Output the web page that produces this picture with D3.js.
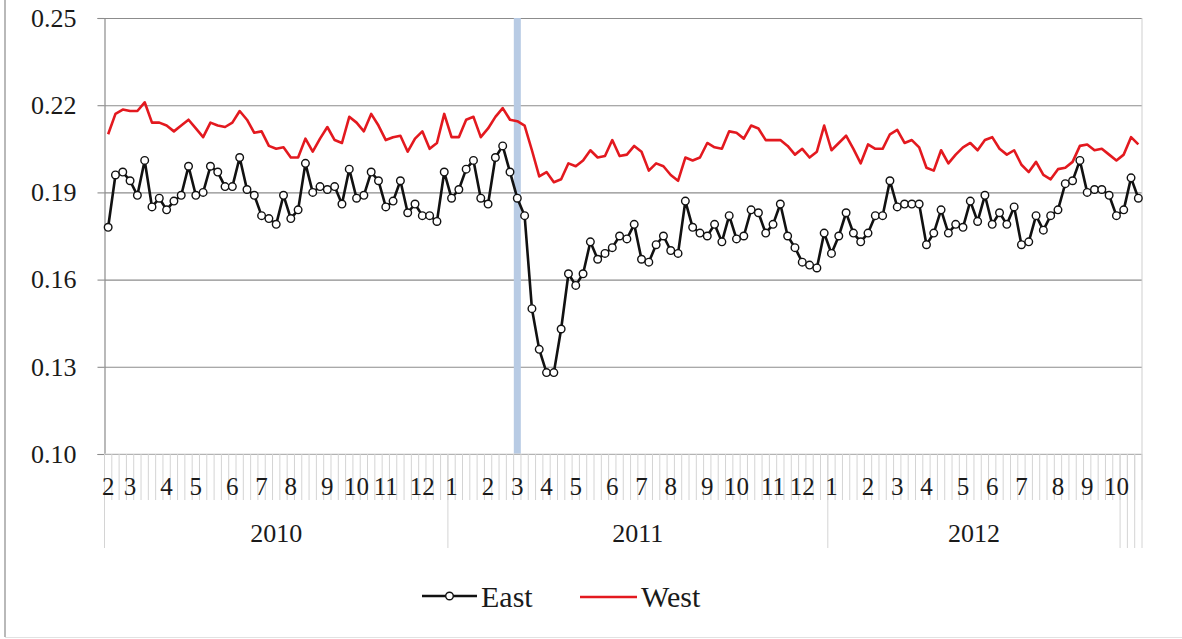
<!DOCTYPE html>
<html>
<head>
<meta charset="utf-8">
<script src="https://cdn.jsdelivr.net/npm/d3@7"></script>
<style>
  html, body { margin: 0; padding: 0; background: #fff; }
  svg { display: block; }
  text { font-family: "Liberation Serif", "Times New Roman", serif; fill: #1a1a1a; }
</style>
</head>
<body>
<svg id="chart" width="1182" height="639"></svg>
<script>
// ---- Data (weekly, Feb 2010 – Oct 2012) ----
const east = [
  0.178,0.196,0.197,0.194,0.189,0.201,0.185,0.188,0.184,0.187,
  0.189,0.199,0.189,0.190,0.199,0.197,0.192,0.192,0.202,0.191,
  0.189,0.182,0.181,0.179,0.189,0.181,0.184,0.200,0.190,0.192,
  0.191,0.192,0.186,0.198,0.188,0.189,0.197,0.194,0.185,0.187,
  0.194,0.183,0.186,0.182,0.182,0.180,0.197,0.188,0.191,0.198,
  0.201,0.188,0.186,0.202,0.206,0.197,0.188,0.182,0.150,0.136,
  0.128,0.128,0.143,0.162,0.158,0.162,0.173,0.167,0.169,0.171,
  0.175,0.174,0.179,0.167,0.166,0.172,0.175,0.170,0.169,0.187,
  0.178,0.176,0.175,0.179,0.173,0.182,0.174,0.175,0.184,0.183,
  0.176,0.179,0.186,0.175,0.171,0.166,0.165,0.164,0.176,0.169,
  0.175,0.183,0.176,0.173,0.176,0.182,0.182,0.194,0.185,0.186,
  0.186,0.186,0.172,0.176,0.184,0.176,0.179,0.178,0.187,0.180,
  0.189,0.179,0.183,0.179,0.185,0.172,0.173,0.182,0.177,0.182,
  0.184,0.193,0.194,0.201,0.190,0.191,0.191,0.189,0.182,0.184,
  0.195,0.188
];
const west = [
  0.210,0.217,0.2185,0.218,0.218,0.221,0.214,0.214,0.213,0.211,
  0.213,0.215,0.212,0.209,0.214,0.213,0.2125,0.214,0.218,0.215,
  0.2105,0.211,0.206,0.205,0.2055,0.202,0.202,0.2085,0.204,0.2085,
  0.2125,0.208,0.207,0.216,0.214,0.211,0.217,0.213,0.208,0.209,
  0.2095,0.204,0.2085,0.211,0.205,0.207,0.217,0.209,0.209,0.215,
  0.216,0.209,0.212,0.216,0.219,0.215,0.2145,0.213,0.2045,0.1955,
  0.197,0.1935,0.1945,0.200,0.199,0.201,0.2045,0.202,0.2025,0.208,
  0.2025,0.203,0.206,0.204,0.1975,0.200,0.199,0.196,0.194,0.202,
  0.201,0.202,0.207,0.2055,0.205,0.211,0.2105,0.2085,0.213,0.212,
  0.208,0.208,0.208,0.206,0.203,0.205,0.202,0.204,0.213,0.2045,
  0.207,0.2095,0.205,0.200,0.2065,0.205,0.205,0.210,0.2115,0.207,
  0.208,0.2055,0.1985,0.1975,0.2045,0.200,0.203,0.2055,0.207,0.2045,
  0.208,0.209,0.205,0.203,0.2045,0.1995,0.197,0.2005,0.196,0.1945,
  0.198,0.1985,0.2005,0.206,0.2065,0.2045,0.205,0.203,0.201,0.203,
  0.209,0.2065
];
// Year groups (label, number of weekly categories)
const yearLabels = ["2010", "2011", "2012", "", "", ""];
const yearWeeks  = [47, 52, 40, 1, 1, 1];
// Month labels and the week index where each month starts
const monthLabels = ["2","3","4","5","6","7","8","9","10","11","12",
                     "1","2","3","4","5","6","7","8","9","10","11","12",
                     "1","2","3","4","5","6","7","8","9","10"];
const monthStart  = [0,3,8,12,17,21,25,30,34,38,43,
                     47,52,56,60,64,69,73,77,82,86,91,95,
                     99,104,108,112,117,121,125,130,134,138];
// Event marker week (March 2011)
const eventWeek = 56;
const yTicks = [0.10, 0.13, 0.16, 0.19, 0.22, 0.25];
const seriesNames = ["East", "West"];

// ---- Layout ----
const svg = d3.select("#chart");
const L = 104.5, R = 1142, T = 18, B = 454;
const n = east.length;
const x = d3.scaleBand().domain(d3.range(n)).range([L, R]).padding(0);
const bw = x.bandwidth();
const cx = i => x(i) + bw / 2;
const y = d3.scaleLinear().domain([0.10, 0.25]).range([B, T]);

// outer frame (left & bottom edge of picture)
svg.append("line").attr("x1", 5).attr("x2", 5).attr("y1", 0).attr("y2", 637)
   .attr("stroke", "#8a8a8a").attr("stroke-width", 1.2);
svg.append("line").attr("x1", 5).attr("x2", 1182).attr("y1", 637.5).attr("y2", 637.5)
   .attr("stroke", "#e2e2e2").attr("stroke-width", 1);

// gridlines
const grid = svg.append("g").attr("transform", `translate(${L},0)`)
  .call(d3.axisLeft(y).tickValues(yTicks).tickSize(-(R - L)).tickFormat(""));
grid.select(".domain").remove();
grid.selectAll("line").attr("stroke", "#8c8c8c").attr("stroke-width", 1.1);

// right border of plot
svg.append("line").attr("x1", R).attr("x2", R).attr("y1", T).attr("y2", B)
   .attr("stroke", "#cfcfcf").attr("stroke-width", 1);

// event band
svg.append("rect")
  .attr("x", x(eventWeek) + bw * 0.02).attr("width", bw * 0.96)
  .attr("y", y(0.25)).attr("height", y(0.10) - y(0.25))
  .attr("fill", "#b8cbe4");

// y axis
const yAxis = svg.append("g").attr("transform", `translate(${L},0)`)
  .call(d3.axisLeft(y).tickValues(yTicks).tickSize(7).tickPadding(21).tickFormat(d3.format(".2f")));
yAxis.select(".domain").attr("stroke", "#8c8c8c").attr("stroke-width", 1.2);
yAxis.selectAll(".tick line").attr("stroke", "#8c8c8c").attr("stroke-width", 1.1);
yAxis.selectAll("text").attr("font-size", 26).attr("fill", "#1a1a1a")
  .attr("font-family", '"Liberation Serif", "Times New Roman", serif');

// x axis base line
svg.append("line").attr("x1", L).attr("x2", R).attr("y1", B).attr("y2", B)
   .attr("stroke", "#d9d9d9").attr("stroke-width", 1.2);

// category boundary ticks
const bounds = d3.range(n + 1);
svg.append("g").selectAll("line").data(bounds).join("line")
  .attr("x1", i => i < n ? x(i) : R).attr("x2", i => i < n ? x(i) : R)
  .attr("y1", B).attr("y2", 500)
  .attr("stroke", "#d4d4d4").attr("stroke-width", 1);

// year group boundaries
const yearEdges = [0];
yearWeeks.forEach(w => yearEdges.push(yearEdges[yearEdges.length - 1] + w));
svg.append("g").selectAll("line").data(yearEdges).join("line")
  .attr("x1", i => i < n ? x(i) : R).attr("x2", i => i < n ? x(i) : R)
  .attr("y1", B).attr("y2", 548)
  .attr("stroke", "#d4d4d4").attr("stroke-width", 1);

// month labels
const xAxis = svg.append("g").attr("transform", `translate(0,${B})`)
  .call(d3.axisBottom(x).tickValues(monthStart).tickSize(0).tickPadding(0)
        .tickFormat(d => monthLabels[monthStart.indexOf(d)]));
xAxis.select(".domain").remove();
xAxis.selectAll("text").attr("font-size", 25).attr("fill", "#1a1a1a")
  .attr("font-family", '"Liberation Serif", "Times New Roman", serif')
  .attr("dy", null).attr("y", 41);

// year labels
svg.append("g").selectAll("text").data(yearLabels).join("text")
  .attr("x", (d, k) => {
    const a = yearEdges[k], b = yearEdges[k + 1];
    const xa = x(a), xb = b < n ? x(b) : R;
    return (xa + xb) / 2;
  })
  .attr("y", 542).attr("text-anchor", "middle").attr("font-size", 26)
  .text(d => d);

// lines
const line = d3.line().x((d, i) => cx(i)).y(d => y(d));
svg.append("path").datum(west).attr("d", line)
  .attr("fill", "none").attr("stroke", "#e3191f").attr("stroke-width", 2.6)
  .attr("stroke-linejoin", "round");
svg.append("path").datum(east).attr("d", line)
  .attr("fill", "none").attr("stroke", "#111").attr("stroke-width", 2.6)
  .attr("stroke-linejoin", "round");
svg.append("g").selectAll("circle").data(east).join("circle")
  .attr("cx", (d, i) => cx(i)).attr("cy", d => y(d)).attr("r", 3.8)
  .attr("fill", "#fff").attr("stroke", "#111").attr("stroke-width", 1.4);

// legend
const lg = svg.append("g");
lg.append("line").attr("x1", 422).attr("x2", 477).attr("y1", 596).attr("y2", 596)
  .attr("stroke", "#111").attr("stroke-width", 2.6);
lg.append("circle").attr("cx", 449.5).attr("cy", 596).attr("r", 3.8)
  .attr("fill", "#fff").attr("stroke", "#111").attr("stroke-width", 1.4);
lg.append("text").attr("x", 481).attr("y", 607).attr("font-size", 30).text(seriesNames[0]);
lg.append("line").attr("x1", 580).attr("x2", 637).attr("y1", 597).attr("y2", 597)
  .attr("stroke", "#e3191f").attr("stroke-width", 2.6);
lg.append("text").attr("x", 641).attr("y", 607).attr("font-size", 30).text(seriesNames[1]);
</script>
</body>
</html>
